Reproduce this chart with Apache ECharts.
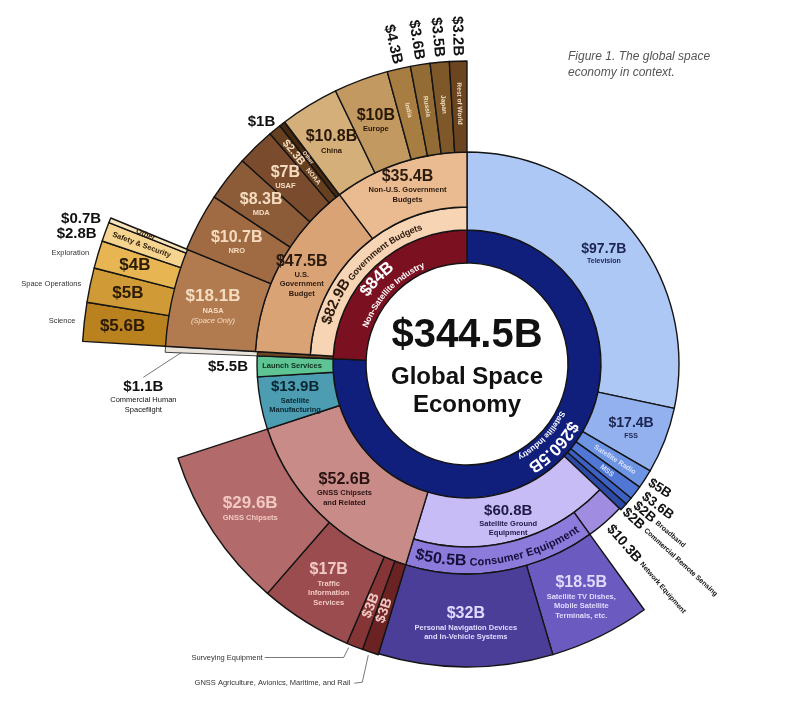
<!DOCTYPE html>
<html>
<head>
<meta charset="utf-8">
<script src="https://cdn.jsdelivr.net/npm/echarts@6/dist/echarts.min.js"></script>
<style>html,body{margin:0;padding:0;background:#fff}#c{width:800px;height:701px}</style>
</head>
<body>
<div id="c"></div>
<script>
// ---------------- DATA ----------------
const topNames = ['Satellite Industry', 'Non-Satellite Industry'];
const topValues = [260.5, 84];
const serviceNames = ['Television', 'FSS', 'Satellite Radio', 'MSS', 'Broadband', 'Commercial Remote Sensing'];
const serviceValues = [97.7, 17.4, 5, 3.6, 2, 2];
const groundNames = ['Satellite Ground Equipment'];
const groundValues = [60.8];
const groundSplitNames = ['Network Equipment', 'Consumer Equipment'];
const groundSplitValues = [10.3, 50.5];
const consumerNames = ['Satellite TV Dishes, Mobile Satellite Terminals, etc.', 'Personal Navigation Devices and In-Vehicle Systems'];
const consumerValues = [18.5, 32];
const otherSatNames = ['GNSS Chipsets and Related', 'Satellite Manufacturing', 'Launch Services'];
const otherSatValues = [52.6, 13.9, 5.5];
const gnssNames = ['GNSS Agriculture, Avionics, Maritime, and Rail', 'Surveying Equipment', 'Traffic Information Services', 'GNSS Chipsets'];
const gnssValues = [3, 3, 17, 29.6];
const nonSatNames = ['Commercial Human Spaceflight', 'Government Budgets'];
const nonSatValues = [1.1, 82.9];
const govNames = ['U.S. Government Budget', 'Non-U.S. Government Budgets'];
const govValues = [47.5, 35.4];
const usNames = ['NASA', 'NRO', 'MDA', 'USAF', 'NOAA', 'Other'];
const usValues = [18.1, 10.7, 8.3, 7, 2.3, 1];
const intlNames = ['China', 'Europe', 'India', 'Russia', 'Japan', 'Rest of World'];
const intlValues = [10.8, 10, 4.3, 3.6, 3.5, 3.2];
const nasaNames = ['Science', 'Space Operations', 'Exploration', 'Safety & Security', 'Other'];
const nasaValues = [5.6, 5, 4, 2.8, 0.7];
const centerLines = ['Global Space', 'Economy'];
const captionText = 'Figure 1. The global space\neconomy in context.';

// ---------------- STYLE / LAYOUT ----------------
const CX = 467, CY = 364;
const F = '"Liberation Sans", Arial, Helvetica, sans-serif';
const C = {
  top: ['#101e7c', '#7b1020'],
  services: ['#aec8f6', '#92b1ee', '#6e94e4', '#5077d6', '#3c60c3', '#2d4ba6'],
  ground: ['#c8bcf6'],
  groundSplit: ['#a08de2', '#8c7bdb'],
  consumer: ['#6b5abf', '#4a3e99'],
  otherSat: ['#c98b87', '#4c9db2', '#5ec494'],
  gnss: ['#6a2222', '#853535', '#9b4c4e', '#b26b6a'],
  chsIn: '#6a4526', chsOut: '#e9e3dc',
  govBand: '#f6d4b4',
  gov: ['#d9a376', '#eaba90'],
  us: ['#b27b4f', '#a06a42', '#8c5b37', '#7a4b2c', '#66401f', '#47290f'],
  intl: ['#d4af7a', '#c29a61', '#a87d41', '#926c34', '#7e5829', '#6a4520'],
  nasa: ['#b9821f', '#d09b36', '#e7b653', '#f5d48f', '#f8e5b9']
};
const T = '#111';

const sum = a => a.reduce((s, v) => s + v, 0);
const fmt = v => '$' + v + 'B';
const TOTAL = sum(topValues);
const oGround = sum(serviceValues);
const oConsumer = oGround + groundSplitValues[0];
const oOtherSat = oGround + groundValues[0];
const oGnss = oOtherSat;
const oNonSat = topValues[0];
const oGov = oNonSat + nonSatValues[0];
const oUS = oGov;
const oIntl = oGov + govValues[0];
const oNasa = oGov;
const mid = (off, v) => (off + v / 2) / TOTAL * 2 * Math.PI;

function lines(n, counts) { const w = n.split(' '); let k = 0; return counts.map(c => w.slice(k, k += c).join(' ')); }
const V = v => '{v|' + fmt(v) + '}';
const N = s => '{n|' + s + '}';

function rs(col, vs, ns) {
  ns = ns || 7.5;
  return {
    v: { fontFamily: F, fontWeight: 'bold', fontSize: vs, color: col, lineHeight: Math.round(vs * 1.15) },
    n: { fontFamily: F, fontWeight: 'bold', fontSize: ns, color: col, lineHeight: ns + 2 },
    i: { fontFamily: F, fontStyle: 'italic', fontSize: ns, color: col, lineHeight: ns + 2 },
    s: { fontFamily: F, fontSize: ns, color: col, lineHeight: ns + 2 }
  };
}
function lab(text, col, vs, opt) {
  opt = opt || {};
  const l = { show: true, position: 'inside', color: col, rich: rs(col, vs, opt.ns) };
  if (opt.rotate != null) l.rotate = opt.rotate;
  return { lbl: text, label: l };
}
function outLab(text, col, vs, opt) {
  opt = opt || {};
  return {
    lbl: text,
    label: { show: true, position: 'outside', color: col, rich: rs(col, vs, opt.ns), rotate: opt.rotate != null ? opt.rotate : 0,
      distanceToLabelLine: opt.dist != null ? opt.dist : 5 },
    labelLine: { show: !!opt.line, length: opt.len != null ? opt.len : 3, length2: 0, lineStyle: { color: '#555', width: 0.8 } }
  };
}
function filler(v) {
  return { value: Math.max(0, v), name: '', itemStyle: { color: 'rgba(0,0,0,0)', borderWidth: 0 }, label: { show: false }, labelLine: { show: false } };
}
function ring(names, values, offset, r0, r1, decorate, extra) {
  const data = [filler(offset)];
  names.forEach((n, i) => {
    const item = { name: n, value: values[i] };
    if (decorate) Object.assign(item, decorate(n, values[i], i) || {});
    data.push(item);
  });
  data.push(filler(TOTAL - offset - sum(values)));
  return Object.assign({
    type: 'pie', center: [CX, CY], radius: [r0, r1], startAngle: 90, clockwise: true,
    avoidLabelOverlap: false, silent: true, animation: false, emphasis: { disabled: true },
    itemStyle: { borderColor: '#141414', borderWidth: 1.4 },
    label: { show: false, formatter: p => p.data.lbl || '', fontFamily: F },
    labelLine: { show: false },
    labelLayout: { hideOverlap: false },
    data
  }, extra || {});
}
function labelRing(names, values, offset, r, decorate, extra) {
  return ring(names, values, offset, r - 1, r, (n, v, i) => {
    const d = decorate(n, v, i) || {};
    d.itemStyle = { color: 'rgba(0,0,0,0)', borderWidth: 0 };
    return d;
  }, extra);
}

function gnssLeader(p) {
  const pts = p.labelLinePoints; if (!pts) return { hideOverlap: false };
  const x0 = pts[0][0], y0 = pts[0][1];
  if (p.dataIndex === 2) return { hideOverlap: false, x: x0 - 92, y: y0 + 11, align: 'right', verticalAlign: 'middle',
    labelLinePoints: [[x0 - 6, y0 + 1], [x0 - 11, y0 + 11], [x0 - 90, y0 + 11]] };
  if (p.dataIndex === 1) return { hideOverlap: false, x: x0 - 20, y: y0 + 31, align: 'right', verticalAlign: 'middle',
    labelLinePoints: [[x0 - 2, y0 + 3], [x0 - 8, y0 + 30], [x0 - 16, y0 + 31]] };
  return { hideOverlap: false };
}
function chsLeader(p) {
  const pts = p.labelLinePoints; if (!pts) return { hideOverlap: false };
  const x0 = pts[0][0], y0 = pts[0][1];
  return { hideOverlap: false, x: x0 - 22, y: y0 + 29, align: 'center', verticalAlign: 'top',
    labelLinePoints: [[x0 + 18, y0 + 2], [x0 - 22, y0 + 28]] };
}
// spread the crowded thin-slice labels a little, perpendicular to their radial direction
function servFan(p) {
  const shift = { 4: 4, 5: 2.5, 6: -3 }[p.dataIndex];
  if (shift == null) return { hideOverlap: false };
  return { hideOverlap: false, dx: shift * 0.68, dy: -shift * 0.73 };
}

// ---------------- SERIES ----------------
const series = [];
series.push(ring(topNames, topValues, 0, 101, 134, (n, v, i) => ({ itemStyle: { color: C.top[i] } })));

series.push(ring(serviceNames, serviceValues, 0, 134, 212, (n, v, i) => {
  const it = { itemStyle: { color: C.services[i] } };
  if (i < 2) Object.assign(it, lab(V(v) + '\n' + N(n), '#1c2450', 14, { ns: 7 }));
  else if (i < 4) Object.assign(it, lab(N(n), '#d7e3ff', 7, { ns: 7, rotate: 'radial' }));
  return it;
}));
series.push(labelRing(serviceNames, serviceValues, 0, 212, (n, v, i) => {
  if (i < 2) return {};
  return outLab(i < 4 ? V(v) : V(v) + ' ' + N(n), T, 13.5, { rotate: 'radial', len: 5, dist: 0, ns: 7 });
}, { labelLayout: servFan }));

series.push(ring(groundNames, groundValues, oGround, 134, 183, (n, v, i) =>
  Object.assign({ itemStyle: { color: C.ground[i] } }, lab(V(v) + '\n' + lines(n, [2, 1]).map(N).join('\n'), '#1e1a48', 15))));

series.push(ring(groundSplitNames, groundSplitValues, oGround, 183, 210, (n, v, i) => ({ itemStyle: { color: C.groundSplit[i] } })));
series.push(labelRing(groundSplitNames, groundSplitValues, oGround, 210, (n, v, i) =>
  i === 0 ? outLab(V(v) + ' ' + N(n), T, 14, { rotate: 'radial', len: 6, dist: 0, ns: 7 }) : {}));

series.push(ring(consumerNames, consumerValues, oConsumer, 210, 303, (n, v, i) =>
  Object.assign({ itemStyle: { color: C.consumer[i] } },
    lab(V(v) + '\n' + lines(n, i === 0 ? [3, 2, 2] : [3, 3]).map(N).join('\n'), '#e0d9ff', 16))));

series.push(ring(otherSatNames, otherSatValues, oOtherSat, 134, 210, (n, v, i) => {
  const it = { itemStyle: { color: C.otherSat[i] } };
  if (i === 0) Object.assign(it, lab(V(v) + '\n' + lines(n, [2, 2]).map(N).join('\n'), '#2a1313', 16));
  if (i === 1) Object.assign(it, lab(V(v) + '\n' + lines(n, [1, 1]).map(N).join('\n'), '#0a2530', 15));
  if (i === 2) Object.assign(it, lab(N(n), '#0c2e1e', 15, { ns: 7.5 }));
  return it;
}));
series.push(labelRing(otherSatNames, otherSatValues, oOtherSat, 210, (n, v, i) =>
  i === 2 ? outLab(V(v), T, 15, { len: 4 }) : {}));

series.push(ring(gnssNames, gnssValues, oGnss, 210, 304, (n, v, i) => {
  const it = { itemStyle: { color: C.gnss[i] } };
  const col = '#f2c8c3';
  if (i < 2) Object.assign(it, lab(V(v), col, 14, { rotate: 'radial' }));
  if (i === 2) Object.assign(it, lab(V(v) + '\n' + lines(n, [1, 1, 1]).map(N).join('\n'), col, 16));
  if (i === 3) Object.assign(it, lab(V(v) + '\n' + N(n), col, 17));
  return it;
}));
series.push(labelRing(gnssNames, gnssValues, oGnss, 304, (n, v, i) =>
  i < 2 ? outLab('{s|' + n + '}', '#333', 7.5, { line: true, len: 4 }) : {}, { labelLayout: gnssLeader }));

series.push(ring([nonSatNames[0]], [nonSatValues[0]], oNonSat, 134, 210, () => ({ itemStyle: { color: C.chsIn } })));
series.push(ring([nonSatNames[0]], [nonSatValues[0]], oNonSat, 210, 302, (n, v) =>
  Object.assign({ itemStyle: { color: C.chsOut, borderWidth: 0.8 } },
    outLab(V(v) + '\n' + lines(n, [2, 1]).map(s => '{s|' + s + '}').join('\n'), T, 15, { line: true, len: 4 })),
  { labelLayout: chsLeader }));

series.push(ring([nonSatNames[1]], [nonSatValues[1]], oGov, 134, 157, () => ({ itemStyle: { color: C.govBand } })));

series.push(ring(govNames, govValues, oGov, 157, 212, (n, v, i) =>
  Object.assign({ itemStyle: { color: C.gov[i] } },
    lab(V(v) + '\n' + lines(n, i === 0 ? [1, 1, 1] : [2, 1]).map(N).join('\n'), '#2b1a0e', 16))));

series.push(ring(usNames, usValues, oUS, 212, 303, (n, v, i) => {
  const it = { itemStyle: { color: C.us[i] } };
  const col = '#f5dcc0';
  if (i === 0) Object.assign(it, lab(V(v) + '\n' + N(n) + '\n{i|(Space Only)}', col, 17));
  else if (i < 4) Object.assign(it, lab(V(v) + '\n' + N(n), col, 16));
  else if (i === 4) Object.assign(it, lab(V(v) + '  ' + N(n), col, 11, { rotate: 'radial', ns: 6.5 }));
  else Object.assign(it, lab(N(n), col, 11, { rotate: 'radial', ns: 5.5 }));
  return it;
}));
series.push(labelRing(usNames, usValues, oUS, 303, (n, v, i) => i === 5 ? outLab(V(v), T, 15, { len: 3 }) : {}));

series.push(ring(intlNames, intlValues, oIntl, 212, 303, (n, v, i) => {
  const it = { itemStyle: { color: C.intl[i] } };
  if (i < 2) Object.assign(it, lab(V(v) + '\n' + N(n), '#2a1806', 16));
  else Object.assign(it, lab(N(n), '#f3dfc4', 11, { rotate: 'radial', ns: 6.5 }));
  return it;
}));
series.push(labelRing(intlNames, intlValues, oIntl, 303, (n, v, i) =>
  i >= 2 ? outLab(V(v), T, 15, { rotate: 'radial', len: 5, dist: 0 }) : {}));

series.push(ring(nasaNames, nasaValues, oNasa, 302, 385, (n, v, i) => {
  const it = { itemStyle: { color: C.nasa[i] } };
  const col = '#2a1a06';
  if (i < 3) Object.assign(it, lab(V(v), col, 17));
  else Object.assign(it, lab(N(n), col, 11, { rotate: 'radial', ns: 7.5 }));
  return it;
}));
series.push(labelRing(nasaNames, nasaValues, oNasa, 385, (n, v, i) =>
  i < 3 ? outLab('{s|' + n + '}', '#333', 15, { len: 4 }) : outLab(V(v), T, 15, { len: 4 }),
  { labelLayout: { moveOverlap: 'shiftY', hideOverlap: false } }));

// ---------------- CURVED RING TEXT ----------------
const mctx = document.createElement('canvas').getContext('2d');
function arcText(lineSpecs, theta, dir) {
  const out = [];
  lineSpecs.forEach(line => {
    const segs = line.segs.map(s => {
      const font = (s.weight || 'bold') + ' ' + s.size + 'px ' + F;
      mctx.font = font;
      return { font, color: s.color, dr: s.dr || 0, chars: Array.from(s.text).map(ch => ({ ch, w: mctx.measureText(ch).width })) };
    });
    const W = segs.reduce((a, s) => a + s.chars.reduce((b, c) => b + c.w, 0), 0);
    const r = line.r;
    let acc = 0;
    segs.forEach(s => s.chars.forEach(c => {
      const off = (acc + c.w / 2 - W / 2) / r;
      acc += c.w;
      const phi = theta + dir * off;
      const rr = r + s.dr;
      out.push({
        type: 'text', silent: true, z: 50,
        x: CX + rr * Math.sin(phi), y: CY - rr * Math.cos(phi),
        rotation: dir > 0 ? -phi : Math.PI - phi,
        style: { text: c.ch, font: s.font, fill: s.color, align: 'center', verticalAlign: 'middle' }
      });
    }));
  });
  return out;
}

const graphics = [].concat(
  arcText([
    { r: 124, segs: [{ text: fmt(topValues[1]), size: 17, color: '#fff' }] },
    { r: 108, segs: [{ text: topNames[1], size: 8.5, color: '#fff' }] }
  ], mid(oNonSat, topValues[1]) - 0.05, 1),
  arcText([
    { r: 122, segs: [{ text: fmt(topValues[0]), size: 17, color: '#fff' }] },
    { r: 107, segs: [{ text: topNames[0], size: 8, color: '#fff' }] }
  ], mid(0, topValues[0]) - 0.04, 1),
  arcText([
    { r: 146, segs: [{ text: fmt(nonSatValues[1]), size: 15, color: '#2b1a0e' },
                     { text: ' ' + nonSatNames[1], size: 9, color: '#2b1a0e', dr: -2 }] }
  ], mid(oGov, nonSatValues[1]) - 0.05, 1),
  arcText([
    { r: 197, segs: [{ text: fmt(groundSplitValues[1]), size: 16, color: '#150f3a' },
                     { text: ' ' + groundSplitNames[1], size: 11, color: '#150f3a', dr: 1.8 }] }
  ], mid(oConsumer, groundSplitValues[1]), -1),
  [
    { type: 'text', silent: true, z: 50, x: CX, y: 336,
      style: { text: fmt(TOTAL), font: 'bold 40px ' + F, fill: '#111', align: 'center', verticalAlign: 'middle' } },
    { type: 'text', silent: true, z: 50, x: CX, y: 377,
      style: { text: centerLines[0], font: 'bold 24px ' + F, fill: '#111', align: 'center', verticalAlign: 'middle' } },
    { type: 'text', silent: true, z: 50, x: CX, y: 405,
      style: { text: centerLines[1], font: 'bold 24px ' + F, fill: '#111', align: 'center', verticalAlign: 'middle' } },
    { type: 'text', silent: true, z: 50, x: 568, y: 49,
      style: { text: captionText, font: 'italic 12px ' + F, fill: '#555', align: 'left', verticalAlign: 'top', lineHeight: 16 } }
  ]
);

const chart = echarts.init(document.getElementById('c'), null, { renderer: 'canvas' });
chart.setOption({
  backgroundColor: '#fff',
  animation: false,
  textStyle: { fontFamily: F },
  series: series,
  graphic: { elements: graphics }
});
</script>
</body>
</html>
